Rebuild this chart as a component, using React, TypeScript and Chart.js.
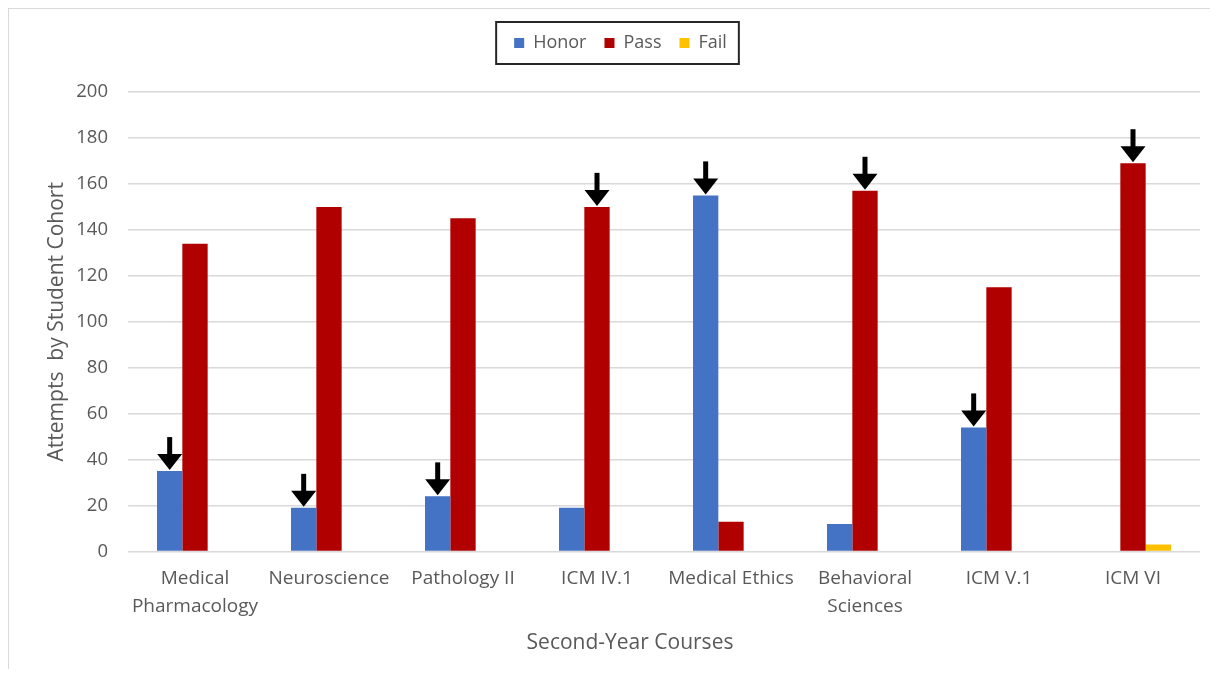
import React, { useEffect, useRef } from "react";
import { Chart, registerables } from "chart.js";

Chart.register(...registerables);

const courses: (string | string[])[] = [
  ["Medical", "Pharmacology"],
  "Neuroscience",
  "Pathology II",
  "ICM IV.1",
  "Medical Ethics",
  ["Behavioral", "Sciences"],
  "ICM V.1",
  "ICM VI",
];
const honorValues = [35, 19, 24, 19, 155, 12, 54, 0];
const passValues = [134, 150, 145, 150, 13, 157, 115, 169];
const failValues = [0, 0, 0, 0, 0, 0, 0, 3];
// which series each black arrow points at, per course
const arrowSeries = ["Honor", "Honor", "Honor", "Pass", "Honor", "Pass", "Honor", "Pass"];
const xTitle = "Second-Year Courses";
const yTitle = "Attempts  by Student Cohort";
const yMin = 0;
const yMax = 200;
const yStep = 20;

const FONT = "'Open Sans', sans-serif";
const TEXT = "#595959";
const LEGEND_PAD = 18;
const LEGEND_FONT = 18;

const arrowPlugin = {
  id: "arrows",
  afterDatasetsDraw(chart: any) {
    const ctx = chart.ctx;
    arrowSeries.forEach((name, j) => {
      const di = chart.data.datasets.findIndex((d: any) => d.label === name);
      if (di < 0) return;
      const el = chart.getDatasetMeta(di).data[j];
      if (!el) return;
      const x = el.x;
      const tip = el.y - 1;
      ctx.save();
      ctx.fillStyle = "#000000";
      ctx.fillRect(x - 2.5, tip - 33, 5, 19);
      ctx.beginPath();
      ctx.moveTo(x - 12.5, tip - 16);
      ctx.lineTo(x + 12.5, tip - 16);
      ctx.lineTo(x, tip);
      ctx.closePath();
      ctx.fill();
      ctx.restore();
    });
  },
};

const decorPlugin = {
  id: "decor",
  afterDraw(chart: any) {
    const ctx = chart.ctx;
    // frame around the legend
    const lg = chart.legend;
    if (lg && lg.legendHitBoxes && lg.legendHitBoxes.length) {
      const hb = lg.legendHitBoxes;
      const first = hb[0];
      const last = hb[hb.length - 1];
      const cy = first.top + first.height / 2;
      const left = first.left - 18;
      const right = last.left + last.width + 12;
      ctx.save();
      ctx.strokeStyle = "#262626";
      ctx.lineWidth = 2;
      ctx.strokeRect(left, cy - 21, right - left, 42);
      ctx.restore();
    }
    // x-axis title (placed slightly left of the plot centre, as in the source)
    const ca = chart.chartArea;
    ctx.save();
    ctx.fillStyle = TEXT;
    ctx.font = `21px ${FONT}`;
    ctx.textAlign = "center";
    ctx.textBaseline = "middle";
    ctx.fillText(xTitle, (ca.left + ca.right) / 2 - 34, chart.height - 26);
    ctx.restore();
  },
};

export default function App() {
  const ref = useRef<HTMLCanvasElement | null>(null);

  useEffect(() => {
    if (!ref.current) return;
    const chart = new Chart(ref.current, {
      type: "bar",
      data: {
        labels: courses,
        datasets: [
          {
            label: "Honor",
            data: honorValues,
            backgroundColor: "#4472C4",
            borderColor: "#4472C4",
            borderWidth: 0,
          },
          {
            label: "Pass",
            data: passValues,
            backgroundColor: "#B00000",
            borderColor: "#B00000",
            borderWidth: 0,
          },
          {
            label: "Fail",
            data: failValues,
            backgroundColor: "#FFC000",
            borderColor: "#FFC000",
            borderWidth: 0,
          },
        ],
      },
      options: {
        responsive: false,
        animation: false,
        layout: { padding: { top: 7, left: 32, right: 0, bottom: 0 } },
        datasets: {
          bar: { categoryPercentage: 0.567, barPercentage: 1 },
        },
        plugins: {
          tooltip: { enabled: false },
          legend: {
            display: true,
            position: "top",
            labels: {
              boxWidth: 10,
              boxHeight: 10,
              padding: LEGEND_PAD,
              color: TEXT,
              font: { family: FONT, size: LEGEND_FONT },
            },
          },
          title: {
            display: true,
            text: "",
            position: "top",
            weight: 500,
            font: { size: 1, lineHeight: 1 },
            padding: { top: 0, bottom: 29 },
          },
        },
        scales: {
          x: {
            grid: { display: false, drawTicks: false },
            border: { display: false },
            ticks: {
              padding: 13.5,
              color: TEXT,
              autoSkip: false,
              maxRotation: 0,
              font: { family: FONT, size: 19, lineHeight: "28px" },
            },
            title: { display: false, text: xTitle },
            afterFit: (s: any) => {
              s.height = 117.5;
            },
          },
          y: {
            min: yMin,
            max: yMax,
            ticks: {
              stepSize: yStep,
              padding: 20,
              color: TEXT,
              font: { family: FONT, size: 18.5 },
            },
            grid: { color: "#d9d9d9", lineWidth: 1.5, drawTicks: false },
            border: { display: false },
            title: {
              display: true,
              text: yTitle,
              color: TEXT,
              font: { family: FONT, size: 21 },
              padding: { top: 3.4, bottom: 0 },
            },
            afterFit: (s: any) => {
              s.width = 87;
            },
          },
        },
      } as any,
      plugins: [arrowPlugin, decorPlugin],
    });
    return () => chart.destroy();
  }, []);

  return (
    <div
      style={{
        width: 1201,
        height: 660,
        borderTop: "1px solid #d9d9d9",
        borderLeft: "1px solid #d9d9d9",
        background: "#ffffff",
      }}
    >
      <canvas ref={ref} width={1191} height={660} style={{ display: "block" }} />
    </div>
  );
}
